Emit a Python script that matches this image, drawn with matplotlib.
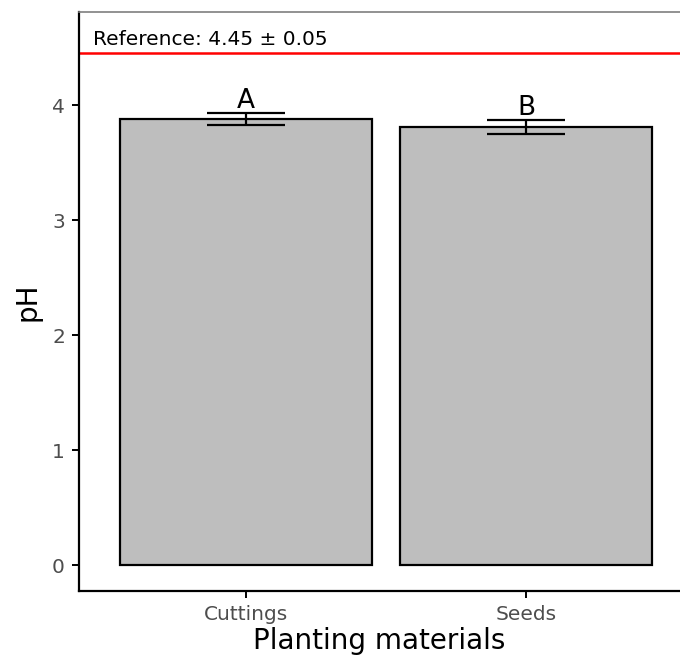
import matplotlib
matplotlib.use("Agg")
import matplotlib.pyplot as plt
import numpy as np

# values
materials = ["Cuttings", "Seeds"]
ph_mean = [3.88, 3.81]
ph_sd = [0.05, 0.065]
letters = ["A", "B"]
ref_value = 4.45
ref_label = "Reference: 4.45 ± 0.05"
yticks = [0, 1, 2, 3, 4]

plt.rcParams["font.family"] = ["DejaVu Sans"]

fig = plt.figure(figsize=(6.8, 6.56), dpi=100)
ax = fig.add_axes([0.116, 0.099, 0.884, 0.8827])

x = np.arange(len(materials))
ax.bar(x, ph_mean, width=0.9, color="#bebebe", edgecolor="black", linewidth=1.6, zorder=2)
ax.errorbar(x, ph_mean, yerr=ph_sd, fmt="none", ecolor="black", elinewidth=1.6,
            capsize=28, capthick=1.6, zorder=3)

for xi, m, s, lab in zip(x, ph_mean, ph_sd, letters):
    ax.text(xi, m + s - 0.01, lab, ha="center", va="bottom", fontsize=19,
            color="black", zorder=4)

# reference line
ax.axhline(ref_value, color="red", linewidth=1.8, zorder=1)
ax.text(-0.547, ref_value + 0.04, ref_label, ha="left", va="bottom", fontsize=14.5, color="black")

ax.set_xlim(-0.596, 1.55)
ax.set_ylim(-0.226, 4.81)
ax.set_xticks(x)
ax.set_xticklabels(materials)
ax.set_yticks(yticks)

ax.tick_params(axis="both", labelcolor="#4d4d4d", color="black", labelsize=14.5,
               length=5, width=1.4, pad=5)
ax.set_xlabel("Planting materials", fontsize=20, labelpad=2)
ax.set_ylabel("pH", fontsize=20, labelpad=8)

for side in ["left", "bottom"]:
    ax.spines[side].set_linewidth(1.6)
    ax.spines[side].set_color("black")
ax.spines["top"].set_color("#7f7f7f")
ax.spines["top"].set_linewidth(1.2)
ax.spines["right"].set_visible(False)

fig.savefig("out.png", dpi=100)
